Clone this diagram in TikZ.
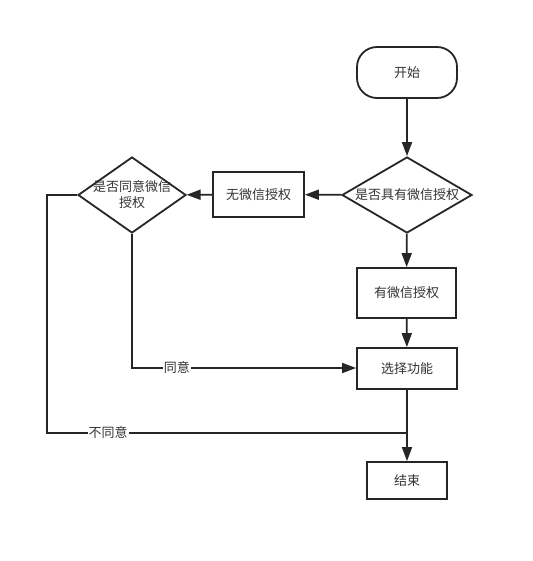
\documentclass[tikz,border=0pt]{standalone}
\usepackage{fontspec}
\setmainfont{Noto Sans CJK SC}
\usetikzlibrary{shapes.geometric,arrows.meta}
\begin{document}
\begin{tikzpicture}[x=1pt,y=-1pt,
  every node/.style={font=\fontsize{13}{15}\selectfont, text=black!80},
  box/.style={draw=black!85, line width=1.8pt, fill=white, inner sep=0pt, align=center},
  dia/.style={draw=black!85, line width=1.8pt, fill=white, diamond, inner sep=0pt, align=center},
  conn/.style={draw=black!85, line width=1.8pt, -{Triangle[length=14pt,width=10pt]}},
  plain/.style={draw=black!85, line width=1.8pt},
  lbl/.style={fill=white, inner sep=1pt}]
\useasboundingbox (0,0) rectangle (532,561);
\fill[white] (0,0) rectangle (532,561);
\node[box, rounded corners=20pt, minimum width=100pt, minimum height=51pt] (start) at (407,72.5) {开始};
\node[dia, minimum width=130pt, minimum height=76pt] (q1) at (407,195) {};
\node at (q1.center) {是否具有微信授权};
\node[box, minimum width=91pt, minimum height=45pt] (no) at (258.5,194.5) {无微信授权};
\node[dia, minimum width=108pt, minimum height=76pt] (q2) at (132,195) {};
\node[align=center, font=\fontsize{13}{16}\selectfont, text=black!80] at (132,195) {是否同意微信\\授权};
\node[box, minimum width=99pt, minimum height=50pt] (yes) at (406.5,293) {有微信授权};
\node[box, minimum width=100pt, minimum height=41pt] (sel) at (407,368.5) {选择功能};
\node[box, minimum width=80pt, minimum height=37pt] (end) at (407,480.5) {结束};
\coordinate (c1) at (132,368);
\coordinate (c2) at (47,195);
\coordinate (c3) at (47,433);
\coordinate (c4) at (407,433);
\draw[conn] (start) -- (q1);
\draw[conn] (q1) -- (no);
\draw[conn] (no) -- (q2);
\draw[conn] (q1) -- (yes);
\draw[conn] (yes) -- (sel);
\draw[conn] (sel) -- (end);
\draw[conn] (q2.south) -- (c1) -- node[lbl, pos=0.2] {同意} (c1 -| sel.west);
\draw[plain] (q2.west) -- (c2) -- (c3) -- node[lbl, pos=0.17] {不同意} (c4);
\end{tikzpicture}
\end{document}
